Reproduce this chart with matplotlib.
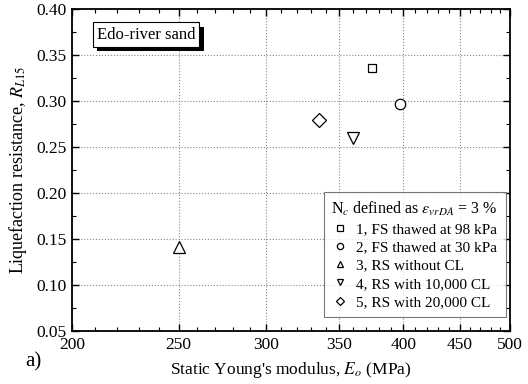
import matplotlib
matplotlib.use("Agg")
import matplotlib.pyplot as plt
import matplotlib.ticker as mticker
import matplotlib.patheffects as pe

plt.rcParams['font.family'] = ['Liberation Serif', 'DejaVu Serif']
plt.rcParams['mathtext.fontset'] = 'stix'

labels = ["1, FS thawed at 98 kPa", "2, FS thawed at 30 kPa", "3, RS without CL",
          "4, RS with 10,000 CL", "5, RS with 20,000 CL"]
E0 = [375, 397, 250, 360, 335]
RL15 = [0.336, 0.297, 0.141, 0.260, 0.279]
markers = ["s", "o", "^", "v", "D"]
sizes = [6, 7.5, 8, 8.5, 7]

xticks = [200, 250, 300, 350, 400, 450, 500]
yticks = [0.05, 0.10, 0.15, 0.20, 0.25, 0.30, 0.35, 0.40]

fig = plt.figure(figsize=(5.28, 3.84), dpi=100)
ax = fig.add_axes([0.136, 0.138, 0.830, 0.839])

for x, y, m, s, lab in zip(E0, RL15, markers, sizes, labels):
    ax.plot([x], [y], linestyle='none', marker=m, markersize=s,
            markerfacecolor='white', markeredgecolor='black', markeredgewidth=0.9,
            label=lab)

ax.set_xscale('log')
ax.set_xlim(200, 500)
ax.set_ylim(0.05, 0.40)
ax.xaxis.set_major_locator(mticker.FixedLocator(xticks))
ax.xaxis.set_major_formatter(mticker.FixedFormatter([str(v) for v in xticks]))
ax.xaxis.set_minor_locator(mticker.FixedLocator([v for v in range(210, 500, 10) if v % 50 != 0]))
ax.xaxis.set_minor_formatter(mticker.NullFormatter())
ax.yaxis.set_major_locator(mticker.FixedLocator(yticks))
ax.yaxis.set_major_formatter(mticker.FormatStrFormatter('%.2f'))
ax.yaxis.set_minor_locator(mticker.MultipleLocator(0.025))

ax.tick_params(which='both', direction='in', top=True, right=True, labelsize=12.5)
ax.tick_params(which='major', length=5, width=1.0, pad=4)
ax.tick_params(which='minor', length=3, width=0.8)
for sp in ax.spines.values():
    sp.set_linewidth(1.3)

ax.grid(True, which='major', linestyle=':', color='#888888', linewidth=0.8)

ax.set_xlabel("Static Young's modulus, $E_o$ (MPa)", fontsize=12.5, labelpad=5)
ax.set_ylabel("Liquefaction resistance, $R_{L15}$", fontsize=13, labelpad=5)

leg = ax.legend(loc='lower right', bbox_to_anchor=(0.997, 0.035), fontsize=11,
                title="N$_c$ defined as $\\varepsilon_{vrDA}$ = 3 %", title_fontsize=11.5,
                frameon=True, fancybox=False, edgecolor='#555555',
                handlelength=1.0, handletextpad=0.6, labelspacing=0.3, borderpad=0.5,
                borderaxespad=0.2)
leg.get_frame().set_linewidth(0.8)
for h in leg.legend_handles:
    h.set_markersize(4.5)

# Edo-river sand label with drop shadow
t = ax.text(0.057, 0.92, "Edo-river sand", transform=ax.transAxes, fontsize=12,
            color='black', va='center', ha='left', zorder=6,
            bbox=dict(boxstyle='square,pad=0.25', facecolor='white',
                      edgecolor='black', linewidth=0.8))
t.get_bbox_patch().set_path_effects([
    pe.SimplePatchShadow(offset=(3, -3), shadow_rgbFace='black', alpha=1.0),
    pe.Normal()])

fig.text(0.047, 0.045, "a)", fontsize=15)

fig.savefig("out.png", dpi=100)
